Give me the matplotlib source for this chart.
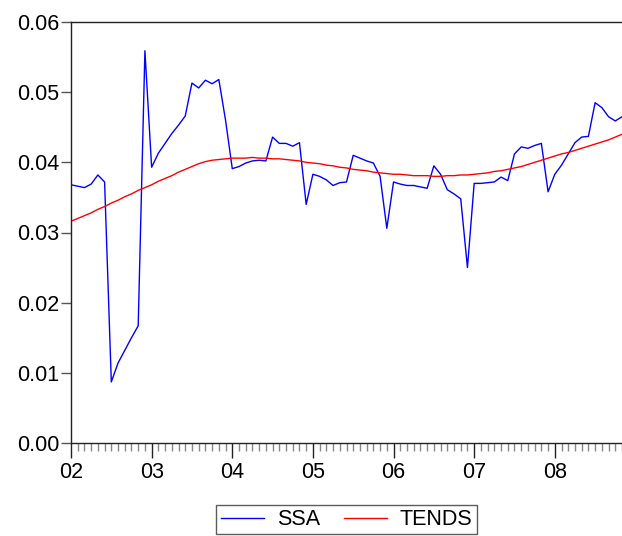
import matplotlib
matplotlib.use("Agg")
import matplotlib.pyplot as plt
import numpy as np

# Kuuandmed 2002M01 ... 2008M11
ssa = [
    0.0368, 0.0366, 0.0364, 0.0369, 0.0382, 0.0372, 0.0087, 0.0114, 0.0132, 0.0150, 0.0167, 0.0559,
    0.0393, 0.0413, 0.0427, 0.0441, 0.0453, 0.0466, 0.0513, 0.0506, 0.0517, 0.0512, 0.0518, 0.0460,
    0.0391, 0.0394, 0.0399, 0.0402, 0.0403, 0.0402, 0.0436, 0.0427, 0.0427, 0.0423, 0.0428, 0.0340,
    0.0383, 0.0380, 0.0375, 0.0367, 0.0371, 0.0372, 0.0410, 0.0406, 0.0402, 0.0399, 0.0380, 0.0306,
    0.0372, 0.0369, 0.0367, 0.0367, 0.0365, 0.0363, 0.0395, 0.0383, 0.0361, 0.0355, 0.0348, 0.0250,
    0.0370, 0.0370, 0.0371, 0.0372, 0.0379, 0.0374, 0.0412, 0.0422, 0.0420, 0.0424, 0.0427, 0.0358,
    0.0383, 0.0396, 0.0412, 0.0428, 0.0436, 0.0437, 0.0485, 0.0478, 0.0465, 0.0459, 0.0465,
]
tends = [
    0.0316, 0.0320, 0.0324, 0.0328, 0.0333, 0.0337, 0.0342, 0.0346, 0.0351, 0.0355, 0.0360, 0.0364,
    0.0368, 0.0373, 0.0377, 0.0381, 0.0386, 0.0390, 0.0394, 0.0398, 0.0401, 0.0403, 0.0404, 0.0405,
    0.0406, 0.0406, 0.0406, 0.0407, 0.0406, 0.0406, 0.0405, 0.0405, 0.0404, 0.0403, 0.0402, 0.0400,
    0.0399, 0.0398, 0.0396, 0.0395, 0.0393, 0.0392, 0.0390, 0.0389, 0.0388, 0.0386, 0.0385, 0.0384,
    0.0383, 0.0383, 0.0382, 0.0381, 0.0381, 0.0381, 0.0380, 0.0380, 0.0381, 0.0381, 0.0382, 0.0382,
    0.0383, 0.0384, 0.0385, 0.0387, 0.0388, 0.0390, 0.0392, 0.0394, 0.0397, 0.0400, 0.0403, 0.0406,
    0.0409, 0.0412, 0.0414, 0.0417, 0.0420, 0.0423, 0.0426, 0.0429, 0.0432, 0.0436, 0.0440,
]
aasta_sildid = ["02", "03", "04", "05", "06", "07", "08"]

plt.rcParams["font.family"] = ["Liberation Sans", "DejaVu Sans"]
plt.rcParams["font.size"] = 15.5

kuud = np.arange(len(ssa))

fig = plt.figure(figsize=(6.22, 5.36), dpi=100)
ax = fig.add_axes([71 / 622, 93 / 536, 551 / 622, 421 / 536])

ax.plot(kuud, ssa, color="#0000ff", lw=1.0, label="SSA")
ax.plot(kuud, tends, color="#ff0000", lw=1.0, label="TENDS")

ax.set_xlim(0, len(ssa) - 1)
ax.set_ylim(0, 0.06)
ax.set_yticks(np.arange(0, 0.061, 0.01))
ax.set_yticklabels([f"{v:.2f}" for v in np.arange(0, 0.061, 0.01)])
ax.set_xticks(np.arange(0, len(ssa), 12))
ax.set_xticklabels(aasta_sildid)
ax.set_xticks(np.arange(0, len(ssa)), minor=True)

ax.tick_params(axis="y", direction="out", length=7, width=1, color="#555555", pad=1.5)
ax.tick_params(axis="x", which="major", direction="out", length=11, width=1, color="#222222", pad=3)
ax.tick_params(axis="x", which="minor", direction="out", length=6, width=1, color="#888888")

ax.spines["right"].set_visible(False)
for s in ("left", "bottom", "top"):
    ax.spines[s].set_linewidth(1.0)
    ax.spines[s].set_color("#222222")

leg = ax.legend(loc="upper center", bbox_to_anchor=(0.5, -0.147), ncol=2, frameon=True,
                fancybox=False, edgecolor="#333333", borderaxespad=0, borderpad=0.2,
                handlelength=2.0, columnspacing=1.1, handletextpad=0.6)
leg.get_frame().set_linewidth(1.0)

fig.savefig("out.png", dpi=100)
